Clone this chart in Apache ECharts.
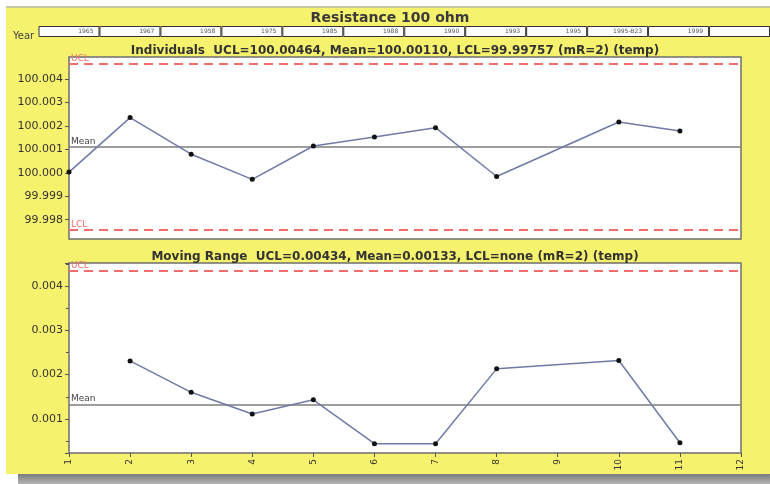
<!DOCTYPE html>
<html>
<head>
<meta charset="utf-8">
<script src="https://cdn.jsdelivr.net/npm/echarts@6/dist/echarts.min.js"></script>
<style>
html,body{margin:0;padding:0;background:#fff;}
#chart{width:770px;height:484px;}
</style>
</head>
<body>
<div id="chart"></div>
<script>
// ---- data ----
const samples = [1, 2, 3, 4, 5, 6, 7, 8, 9, 10, 11];
const individuals = [100.00003, 100.00235, 100.00079, 99.99972, 100.00114, 100.00152, 100.00192, 99.99984, null, 100.00216, 100.00178];
const movingRange = [null, 0.00231, 0.00160, 0.00111, 0.00143, 0.00044, 0.00044, 0.00213, null, 0.00232, 0.00046];
const yearLabels = ['1965', '1967', '1958', '1975', '1985', '1988', '1990', '1993', '1995', '1995-B23', '1999', ''];
const yearBoxes = [1, 1, 1, 1, 1, 1, 1, 1, 1, 1, 1, 1];
const indLimits = { ucl: 100.00464, mean: 100.00110, lcl: 99.99757 };
const mrLimits = { ucl: 0.00434, mean: 0.00133 };
const titleText = 'Resistance 100 ohm';
const indTitle = 'Individuals  UCL=100.00464, Mean=100.00110, LCL=99.99757 (mR=2) (temp)';
const mrTitle = 'Moving Range  UCL=0.00434, Mean=0.00133, LCL=none (mR=2) (temp)';

const FONT = 'DejaVu Sans';
const chart = echarts.init(document.getElementById('chart'), null, { renderer: 'canvas' });

const pairs = (arr) => samples.map((x, i) => [x, arr[i]]);

const RED = '#f26d6d';
const MEANC = '#7d7d7d';
const LINEC = '#6f7ba6';

function limitLine(value, name, color, labelColor, type, width) {
  return {
    yAxis: value,
    lineStyle: { color: color, type: type, width: width },
    label: { show: true, formatter: name, position: 'insideStartTop', color: labelColor,
             fontFamily: FONT, fontSize: 9, distance: [2, 1] }
  };
}

const option = {
  backgroundColor: '#f6f26e',
  animation: false,
  textStyle: { fontFamily: FONT },
  graphic: [
    { type: 'rect', shape: { x: 0, y: 0, width: 770, height: 6 }, style: { fill: '#ffffff' }, silent: true },
    { type: 'rect', shape: { x: 0, y: 6, width: 770, height: 2 }, style: { fill: '#c9c7a0' }, silent: true },
    { type: 'rect', shape: { x: 0, y: 0, width: 6, height: 484 }, style: { fill: '#ffffff' }, silent: true },
    { type: 'rect', shape: { x: 0, y: 474, width: 770, height: 10 }, style: { fill: '#ffffff' }, silent: true },
    { type: 'rect', shape: { x: 18, y: 474, width: 752, height: 10 },
      style: { fill: new echarts.graphic.LinearGradient(0, 0, 0, 1, [
        { offset: 0, color: '#7a7a7a' }, { offset: 1, color: '#b5b5b5' }]) }, silent: true }
  ],
  title: [
    { text: titleText, left: 385, top: 6, textAlign: 'center',
      textStyle: { fontFamily: FONT, fontSize: 14, fontWeight: 'bold', color: '#3a3a3a' } },
    { text: indTitle, left: 390, top: 40, textAlign: 'center',
      textStyle: { fontFamily: FONT, fontSize: 12, fontWeight: 'bold', color: '#333' } },
    { text: mrTitle, left: 390, top: 246, textAlign: 'center',
      textStyle: { fontFamily: FONT, fontSize: 12, fontWeight: 'bold', color: '#333' } },
    { text: 'Year', left: 8, top: 26,
      textStyle: { fontFamily: FONT, fontSize: 10, fontWeight: 'normal', color: '#444' } }
  ],
  grid: [
    { left: 69, top: 57, width: 672, height: 182, show: true, backgroundColor: '#ffffff',
      borderColor: '#6e6e6e', borderWidth: 1.5 },
    { left: 69, top: 263, width: 672, height: 190, show: true, backgroundColor: '#ffffff',
      borderColor: '#6e6e6e', borderWidth: 1.5 },
    { left: 38.5, top: 26, width: 733, height: 11 }
  ],
  xAxis: [
    { gridIndex: 0, type: 'value', min: 1, max: 12, interval: 1,
      axisLine: { show: false }, axisTick: { show: false }, axisLabel: { show: false }, splitLine: { show: false } },
    { gridIndex: 1, type: 'value', min: 1, max: 12, interval: 1,
      axisLine: { show: false }, splitLine: { show: false },
      axisTick: { show: true, length: 4, lineStyle: { color: '#555' } },
      axisLabel: { rotate: 90, fontSize: 9, color: '#333', margin: 6, fontFamily: FONT } },
    { gridIndex: 2, type: 'category', data: yearLabels, show: false }
  ],
  yAxis: [
    { gridIndex: 0, type: 'value', min: 99.99718, max: 100.00493, minInterval: 0.001, maxInterval: 0.001,
      axisLine: { show: false }, splitLine: { show: false },
      axisTick: { show: true, length: 4, lineStyle: { color: '#555' } },
      axisLabel: { fontSize: 11, color: '#333', margin: 6, fontFamily: FONT,
                   showMinLabel: false, showMaxLabel: false,
                   formatter: (v) => v.toFixed(3) } },
    { gridIndex: 1, type: 'value', min: 0.00023, max: 0.00452, minInterval: 0.001, maxInterval: 0.001,
      axisLine: { show: false }, splitLine: { show: false },
      axisTick: { show: true, length: 4, lineStyle: { color: '#555' } },
      minorTick: { show: true, splitNumber: 2, length: 3, lineStyle: { color: '#555' } },
      axisLabel: { fontSize: 11, color: '#333', margin: 6, fontFamily: FONT,
                   showMinLabel: false, showMaxLabel: false,
                   formatter: (v) => v.toFixed(3) } },
    { gridIndex: 2, type: 'value', min: 0, max: 1, show: false }
  ],
  series: [
    { type: 'line', xAxisIndex: 0, yAxisIndex: 0, data: pairs(individuals), connectNulls: true,
      symbol: 'circle', symbolSize: 5, lineStyle: { color: LINEC, width: 1.5 },
      itemStyle: { color: '#111' }, z: 5,
      markLine: { silent: true, symbol: 'none', animation: false, precision: 8, z: 3, data: [
        limitLine(indLimits.ucl, 'UCL', RED, RED, [9, 6], 2),
        limitLine(indLimits.mean, 'Mean', MEANC, '#444', 'solid', 1.5),
        limitLine(indLimits.lcl, 'LCL', RED, RED, [9, 6], 2)
      ] } },
    { type: 'line', xAxisIndex: 1, yAxisIndex: 1, data: pairs(movingRange), connectNulls: true,
      symbol: 'circle', symbolSize: 5, lineStyle: { color: LINEC, width: 1.5 },
      itemStyle: { color: '#111' }, z: 5,
      markLine: { silent: true, symbol: 'none', animation: false, precision: 8, z: 3, data: [
        limitLine(mrLimits.ucl, 'UCL', RED, RED, [9, 6], 2),
        limitLine(mrLimits.mean, 'Mean', MEANC, '#444', 'solid', 1.5)
      ] } },
    { type: 'bar', xAxisIndex: 2, yAxisIndex: 2, data: yearBoxes, barWidth: '100%', silent: true,
      itemStyle: { color: '#ffffff', borderColor: '#333', borderWidth: 1 },
      label: { show: true, position: 'insideRight', formatter: '{b}', fontSize: 6, color: '#555',
               fontFamily: FONT, distance: 6 } }
  ]
};
chart.setOption(option);
</script>
</body>
</html>
